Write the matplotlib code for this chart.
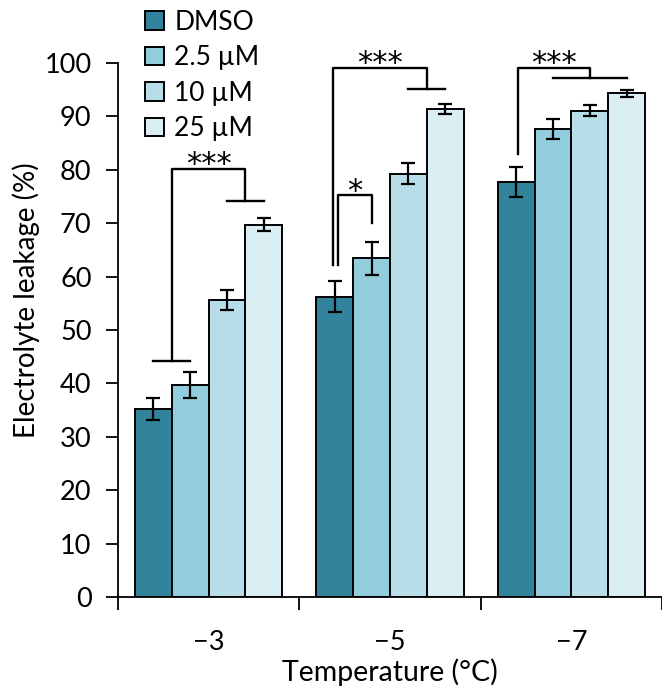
import numpy as np
import matplotlib.pyplot as plt

# Data
temperatures = ['\u22123', '\u22125', '\u22127']
series_names = ['DMSO', '2.5 \u00b5M', '10 \u00b5M', '25 \u00b5M']
dmso = [35.2, 56.2, 77.7]
um_2_5 = [39.7, 63.4, 87.7]
um_10 = [55.6, 79.3, 91.1]
um_25 = [69.7, 91.4, 94.3]
err_dmso = [2.0, 2.9, 2.8]
err_2_5 = [2.4, 3.1, 1.9]
err_10 = [1.9, 2.0, 1.0]
err_25 = [1.2, 0.9, 0.6]

plt.rcParams['font.family'] = ['Lato', 'DejaVu Sans']
FS = 19.5

colors = ['#31849b', '#92cddd', '#b7dee8', '#dbeef4']
values = [dmso, um_2_5, um_10, um_25]
errors = [err_dmso, err_2_5, err_10, err_25]

fig = plt.figure(figsize=(6.62, 6.87), dpi=100)
ax = fig.add_axes([118/662, 90/687, 544/662, 534/687])

x = np.arange(len(temperatures))
w = 0.203
offsets = (np.arange(4) - 1.5) * w
for i in range(4):
    ax.bar(x + offsets[i], values[i], w, color=colors[i], edgecolor='black',
           linewidth=1.4, label=series_names[i], zorder=2)
    ax.errorbar(x + offsets[i], values[i], yerr=errors[i], fmt='none',
                ecolor='black', elinewidth=1.6, capsize=5, capthick=1.6, zorder=3)

lw = 1.7
def line(xs, ys):
    ax.plot(xs, ys, color='black', lw=lw, clip_on=False, zorder=4)

def star(xc, y, s):
    ax.text(xc, y - 1.9, s, ha='center', va='bottom', fontsize=22, clip_on=False,
            family=['DejaVu Sans'])

c = [x + o for o in offsets]  # bar centers per series

# group -3: DMSO & 2.5 vs 10 & 25
g = 0
mid_l = (c[0][g] + c[1][g]) / 2
mid_r = (c[2][g] + c[3][g]) / 2
line([c[0][g], c[1][g]], [44.2, 44.2])
line([mid_l, mid_l, mid_r, mid_r], [44.2, 80.1, 80.1, 74.2])
line([c[2][g], c[3][g]], [74.2, 74.2])
star((mid_l + mid_r) / 2, 80.1, '***')

# group -5
g = 1
mid_r = (c[2][g] + c[3][g]) / 2
xl = c[0][g] - 0.01
line([xl, xl, mid_r, mid_r], [62.2, 99.1, 99.1, 95.1])
line([c[2][g], c[3][g]], [95.1, 95.1])
star((xl + mid_r) / 2, 99.1, '***')
xl2 = c[0][g] + 0.015
line([xl2, xl2, c[1][g], c[1][g]], [62.2, 75.2, 75.2, 70.1])
star((xl2 + c[1][g]) / 2, 75.2, '*')

# group -7
g = 2
xl = c[0][g] + 0.01
line([xl, xl, c[2][g], c[2][g]], [83.0, 99.1, 99.1, 97.1])
line([c[1][g], c[3][g]], [97.1, 97.1])
star((xl + c[2][g]) / 2, 99.1, '***')

ax.set_xlim(-0.5, 2.5)
ax.set_ylim(0, 100)
ax.set_yticks(np.arange(0, 101, 10))
ax.set_xticks(x)
ax.set_xticklabels(temperatures)
ax.set_xticks([-0.5, 0.5, 1.5, 2.5], minor=True)
ax.tick_params(axis='x', which='major', length=0, pad=24, labelsize=FS)
ax.tick_params(axis='x', which='minor', length=9, width=1.3)
ax.tick_params(axis='y', length=9, width=1.3, labelsize=FS, pad=10)
for s in ['top', 'right']:
    ax.spines[s].set_visible(False)
ax.spines['left'].set_linewidth(1.3)
ax.spines['bottom'].set_linewidth(1.3)

ax.set_xlabel('Temperature (\u00b0C)', fontsize=20.5, labelpad=2)
ax.set_ylabel('Electrolyte leakage (%)', fontsize=20)
ax.yaxis.set_label_coords(-0.143, 0.556)

leg = ax.legend(loc='upper left', bbox_to_anchor=(0.05, 1.10), frameon=False,
                fontsize=19, handlelength=0.7, handleheight=0.7,
                handletextpad=0.4, labelspacing=0.4, borderaxespad=0,
                borderpad=0)

fig.savefig('out.png', dpi=100)
